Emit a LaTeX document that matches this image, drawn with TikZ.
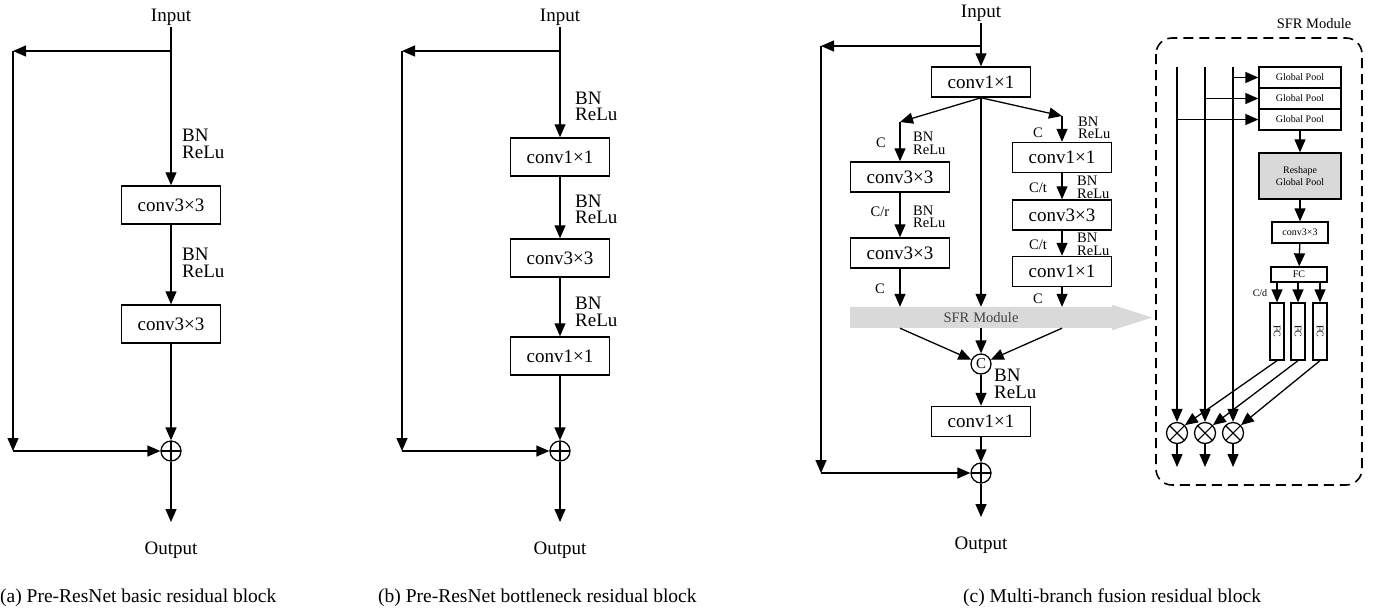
\documentclass[tikz,border=0pt]{standalone}
\usepackage{fontspec}
\setmainfont{Liberation Serif}
\usepackage{graphicx}
\usepackage{tikz}
\usetikzlibrary{arrows.meta, positioning, calc}
\definecolor{sfrgray}{HTML}{D9D9D9}
\definecolor{sfrtext}{HTML}{404040}

\tikzset{
  flow/.style={->, line width=1.3pt},
  box/.style={draw, line width=1.5pt, minimum width=99, minimum height=38, inner sep=0pt, font=\fontsize{19}{19}\selectfont},
  cbox/.style={box, minimum height=30},
  sbox/.style={draw, line width=1.3pt, minimum width=82, minimum height=21, inner sep=0pt, font=\fontsize{10}{12}\selectfont},
  vfc/.style={sbox, minimum width=14, minimum height=57},
  lbl/.style={inner sep=0pt, align=left, font=\fontsize{19}{16.5}\selectfont},
  slbl/.style={inner sep=0pt, align=left, font=\fontsize{14.5}{12.5}\selectfont},
  tinylbl/.style={inner sep=0pt, font=\fontsize{10}{12}\selectfont},
  io/.style={inner sep=2pt, font=\fontsize{19}{19}\selectfont},
  caption/.style={inner sep=0pt, anchor=west, font=\fontsize{19.5}{19.5}\selectfont},
  ring/.style={draw, circle, line width=1.3pt, minimum size=20, inner sep=0pt},
  plus/.style={ring, path picture={\draw[line width=1.1pt] (path picture bounding box.north) -- (path picture bounding box.south) (path picture bounding box.west) -- (path picture bounding box.east);}},
  otimes/.style={ring, minimum size=21, path picture={\draw[line width=1.1pt] (path picture bounding box.north west) -- (path picture bounding box.south east) (path picture bounding box.south west) -- (path picture bounding box.north east);}},
  sfrbar/.style={fill=sfrgray, minimum width=262, minimum height=21, inner sep=0pt, text=sfrtext, font=\fontsize{14.5}{14.5}\selectfont},
  modbox/.style={line width=1.6pt, dash pattern=on 10pt off 6pt, rounded corners=16pt}
}

\begin{document}
\begin{tikzpicture}[x=1pt, y=-1pt, >={Triangle[length=13pt,width=11pt]}]
\useasboundingbox (0,0) rectangle (1380,614);

% (a) basic block
\node[io] (inA) at (171,17) {Input};
\coordinate (splitA) at (171,51);
\coordinate (leftA) at (13,51);
\node[box] (a1) at (171,205) {conv3×3};
\node[box] (a2) at (171,324) {conv3×3};
\node[plus] (addA) at (171,451) {};
\coordinate (cornerA) at (leftA |- addA);
\coordinate (endA) at (171,522);
\node[io] (outA) at (171,550) {Output};
\draw[flow] (inA) -- (a1);
\draw[flow] (a1) -- (a2);
\draw[flow] (a2) -- (addA);
\draw[flow] (addA) -- (endA);
\draw[flow] (splitA) -- (leftA);
\draw[flow] (leftA) -- (cornerA);
\draw[flow] (cornerA) -- (addA);
\node[lbl, anchor=west] (bnA1) at (182,144) {BN\\ReLu};
\node[lbl, anchor=west] (bnA2) at (182,263) {BN\\ReLu};
\node[caption] (capA) at (0,598) {(a) Pre-ResNet basic residual block};

% (b) bottleneck block
\node[io] (inB) at (560,17) {Input};
\coordinate (splitB) at (560,51);
\coordinate (leftB) at (402,51);
\node[box] (b1) at (560,157) {conv1×1};
\node[box] (b2) at (560,258) {conv3×3};
\node[box] (b3) at (560,356) {conv1×1};
\node[plus] (addB) at (560,451) {};
\coordinate (cornerB) at (leftB |- addB);
\coordinate (endB) at (560,522);
\node[io] (outB) at (560,550) {Output};
\draw[flow] (inB) -- (b1);
\draw[flow] (b1) -- (b2);
\draw[flow] (b2) -- (b3);
\draw[flow] (b3) -- (addB);
\draw[flow] (addB) -- (endB);
\draw[flow] (splitB) -- (leftB);
\draw[flow] (leftB) -- (cornerB);
\draw[flow] (cornerB) -- (addB);
\foreach \y/\n in {106.5/1, 209.5/2, 312/3} {
  \node[lbl, anchor=west] (bnB\n) at (575,\y) {BN\\ReLu};
}
\node[caption] (capB) at (378,598) {(b) Pre-ResNet bottleneck residual block};

% (c) multi-branch fusion block
\node[io] (inC) at (981,13) {Input};
\coordinate (splitC) at (981,46);
\coordinate (leftC) at (821,46);
\node[cbox] (c0) at (981,82) {conv1×1};
\coordinate (brL) at (900,122);
\coordinate (brR) at (1062,116);
\node[cbox] (l1) at (900,177) {conv3×3};
\node[cbox] (l2) at (900,253) {conv3×3};
\node[cbox] (r1) at (1062,157.5) {conv1×1};
\node[cbox] (r2) at (1062,215) {conv3×3};
\node[cbox] (r3) at (1062,271.5) {conv1×1};
\node[sfrbar] (sfr) at (981,317.5) {SFR\hspace{4pt}Module};
\fill[sfrgray] ([yshift=2pt]sfr.north east) -- ([xshift=40pt]sfr.east) -- ([yshift=-2pt]sfr.south east) -- cycle;
\node[ring, font=\fontsize{15}{15}\selectfont] (cat) at (981,364) {C};
\node[cbox] (c1) at (981,421.5) {conv1×1};
\node[plus] (addC) at (981,473) {};
\coordinate (cornerC) at (leftC |- addC);
\coordinate (endC) at (981,517);
\node[io] (outC) at (981,545) {Output};

\draw[flow] (inC) -- (c0);
\draw[flow] (splitC) -- (leftC);
\draw[flow] (leftC) -- (cornerC);
\draw[flow] (cornerC) -- (addC);
\draw[flow] (c0.south) -- (brL);
\draw[flow] (brL) -- (l1);
\draw[flow] (c0.south) -- (brR);
\draw[flow] (brR) -- (r1);
\draw[flow] (c0) -- (sfr);
\draw[flow] (l1) -- (l2);
\draw[flow] (l2) -- (l2 |- sfr.north);
\draw[flow] (r1) -- (r2);
\draw[flow] (r2) -- (r3);
\draw[flow] (r3) -- (r3 |- sfr.north);
\draw[flow] (l2 |- sfr.south) -- (cat);
\draw[flow] (sfr) -- (cat);
\draw[flow] (r3 |- sfr.south) -- (cat);
\draw[flow] (cat) -- (c1);
\draw[flow] (c1) -- (addC);
\draw[flow] (addC) -- (endC);

\node[slbl] (cL1) at (881,143) {C};
\node[slbl] (cL2) at (880,212) {C/r};
\node[slbl] (cL3) at (880,289) {C};
\node[slbl] (cR1) at (1038,133) {C};
\node[slbl] (cR2) at (1038,188) {C/t};
\node[slbl] (cR3) at (1038,245) {C/t};
\node[slbl] (cR4) at (1038,299) {C};
\node[slbl, anchor=west] (bnL1) at (913,143.5) {BN\\ReLu};
\node[slbl, anchor=west] (bnL2) at (913,217) {BN\\ReLu};
\node[slbl, anchor=west] (bnR1) at (1078,128) {BN\\ReLu};
\node[slbl, anchor=west] (bnR2) at (1077,187.5) {BN\\ReLu};
\node[slbl, anchor=west] (bnR3) at (1077,244.5) {BN\\ReLu};
\node[lbl, anchor=west] (bnC) at (994,384) {BN\\ReLu};
\node[caption] (capC) at (963,598) {(c) Multi-branch fusion residual block};

% SFR module detail
\node[font=\fontsize{14.5}{14.5}\selectfont, inner sep=0pt] (sfrtitle) at (1314,24) {SFR Module};
\draw[modbox] (1156,38) rectangle (1362,485);
\foreach \i/\x in {1/1177, 2/1205, 3/1233} {
  \coordinate (t\i) at (\x,67);
  \node[otimes] (ot\i) at (\x,433) {};
  \coordinate (o\i) at (\x,467);
  \draw[flow] (t\i) -- (ot\i);
  \draw[flow] (ot\i) -- (o\i);
}
\foreach \i/\y/\t in {1/77.5/3, 2/98.5/2, 3/119.5/1} {
  \node[sbox] (gp\i) at (1300,\y) {Global Pool};
  \draw[flow] (t\t |- gp\i) -- (gp\i);
}
\node[sbox, fill=sfrgray, minimum height=46, align=center] (rs) at (1300,176) {Reshape\\Global Pool};
\node[sbox, minimum width=56] (cv) at (1300,232.5) {conv3×3};
\node[sbox, minimum width=56, minimum height=15] (fc) at (1299,274.5) {FC};
\draw[flow] (gp3) -- (rs);
\draw[flow] (rs) -- (cv);
\draw[flow] (cv) -- (fc);
\node[tinylbl] (cd) at (1260,293) {C/d};
\foreach \i/\x in {1/1277, 2/1298, 3/1320} {
  \node[vfc] (f\i) at (\x,331.5) {\rotatebox{-90}{FC}};
  \draw[flow] (f\i |- fc.south) -- (f\i);
  \draw[flow] (f\i.south) -- (ot\i.north east);
}
\end{tikzpicture}
\end{document}
